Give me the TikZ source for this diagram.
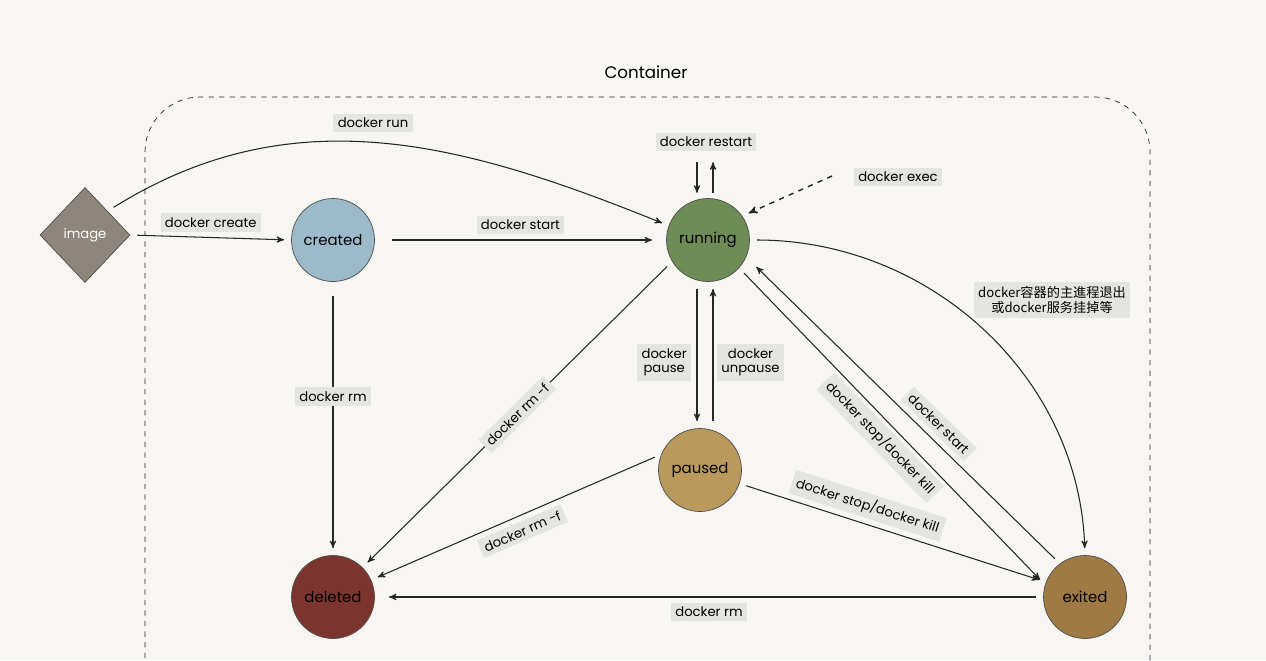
\documentclass[tikz,border=0pt]{standalone}
\usepackage{fontspec}
\setmainfont{Poppins}
\newfontfamily\cjk{Noto Sans CJK SC}
\usetikzlibrary{positioning,arrows,shapes.geometric}
\definecolor{bgcol}{HTML}{F7F6F2}
\definecolor{lblcol}{HTML}{E4E4E1}
\begin{document}
\begin{tikzpicture}
        [x=0.02cm, y=-0.02cm, font=\fontsize{7.5}{8.5}\selectfont,
        state/.style={circle, draw=black!70, minimum size=1.66cm, inner sep=0pt,
            font=\fontsize{8.5}{9}\selectfont},
        lbl/.style={fill=lblcol, inner sep=2.5pt, align=center},
        trans/.style={draw=black!85, -stealth', semithick, shorten >=4pt, shorten <=4pt}]
        \useasboundingbox [fill=bgcol] (0,0) rectangle (1266,660);
        % container frame
        \draw [dashed, black!85, rounded corners=1.1cm] (145,700) -- (145,97) -- (1150,97) -- (1150,700);
        \node (title) at (646,72) {\fontsize{9.5}{10}\selectfont Container};
        % states
        \node [diamond, draw=black!70, fill={rgb,255:red,142;green,134;blue,124}, minimum width=1.8cm, minimum height=1.9cm, inner sep=0pt, text=white] (image) at (85,235) {image};
        \node [state, fill={rgb,255:red,156;green,186;blue,202}] (created) at (333,240) {created};
        \node [state, fill={rgb,255:red,110;green,140;blue,86}] (running) at (708,240) {running};
        \node [state, fill={rgb,255:red,186;green,154;blue,92}] (paused) at (700,470) {paused};
        \node [state, fill={rgb,255:red,124;green,52;blue,46}] (deleted) at (333,597) {deleted};
        \node [state, fill={rgb,255:red,160;green,122;blue,68}] (exited) at (1085,597) {exited};
        \coordinate (execsrc) at (832,176);
        % transitions
        \draw [trans] (image.north east) to[out=32, in=158] (running.160);
        \node [lbl] (run) at (373,123) {docker run};
        \draw [trans] (image.east) -- node [lbl, above=3pt] {docker create} (created.west);
        \draw [trans, shorten <=10pt, shorten >=8pt] (created.east) -- node [lbl, above=3pt] {docker start} (running.west);
        \draw [trans, shorten >=3pt] ([xshift=-0.22cm]running.north) ++(0,-43) -- ([xshift=-0.22cm]running.north);
        \draw [trans, shorten <=3pt] ([xshift=0.1cm]running.north) -- ++(0,-43);
        \node [lbl] (restart) at (706,142) {docker restart};
        \draw [trans, dashed, thick, shorten <=0pt] (execsrc) -- (running.35);
        \node [lbl] (exec) at (898,177) {docker exec};
        \draw [trans] (running.east) to[out=0, in=92] (exited.north);
        \node [lbl] (crash) at (1052,300) {{\cjk docker容器的主進程退出}\\{\cjk 或docker服务挂掉等}};
        \draw [trans] (running.211) -- node [lbl, sloped] {docker rm -f} (deleted.45);
        \draw [trans] ([xshift=-0.22cm]running.south) -- node [lbl, left=3pt, pos=0.55] {docker\\pause} ([xshift=-0.22cm]running.south |- paused.north);
        \draw [trans] ([xshift=0.1cm]running.south |- paused.north) -- node [lbl, right=2pt, pos=0.45] {docker\\unpause} ([xshift=0.1cm]running.south);
        \draw [trans] (running.-42) -- node [lbl, sloped, below=2pt] {docker stop/docker kill} (exited.163);
        \draw [trans, shorten >=8pt] (exited.127) -- node [lbl, sloped, above=3pt, pos=0.42] {docker start} (running.-24);
        \draw [trans] (paused.158) -- node [lbl, sloped, below=3pt] {docker rm -f} (deleted.24);
        \draw [trans] (paused.-19) -- node [lbl, sloped, above=3pt, pos=0.4] {docker stop/docker kill} (exited.159);
        \draw [trans, shorten >=8pt] (exited.west) -- node [lbl, below=3pt] {docker rm} (deleted.east);
        \draw [trans, shorten <=8pt] (created.south) -- node [lbl, pos=0.42] {docker rm} (deleted.north);
\end{tikzpicture}
\end{document}
